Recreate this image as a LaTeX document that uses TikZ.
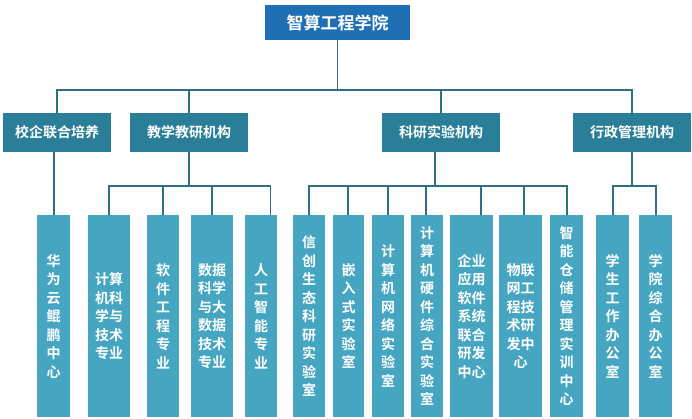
\documentclass[tikz,border=0pt]{standalone}
\usepackage{fontspec}
\setmainfont{Noto Sans CJK SC Bold}
\definecolor{topc}{HTML}{1E6FB3}
\definecolor{midc}{HTML}{2B7E98}
\definecolor{lowc}{HTML}{46A6C2}
\definecolor{linec}{HTML}{2E6F88}
\begin{document}
\begin{tikzpicture}[x=1pt,y=-1pt,
  box/.style={fill=#1,text=white,inner sep=0pt,font=\fontsize{14}{15}\selectfont},
  lw/.style={draw=linec,line width=1.6pt},
  leaf/.style={box=lowc,align=center,font=\fontsize{14}{18.5}\selectfont,minimum height=202pt,anchor=north west}]
\useasboundingbox (0,0) rectangle (692,419);
\fill[white] (0,0) rectangle (692,419);
\node[box=topc,minimum width=145pt,minimum height=35pt,font=\fontsize{17}{18}\selectfont] (top) at (337.5,22.5) {智算工程学院};
\node[box=midc,minimum width=108pt,minimum height=39pt] (a) at (57,132.5) {校企联合培养};
\node[box=midc,minimum width=118pt,minimum height=39pt] (b) at (189,132.5) {教学教研机构};
\node[box=midc,minimum width=118pt,minimum height=39pt] (c) at (441,132.5) {科研实验机构};
\node[box=midc,minimum width=118pt,minimum height=39pt] (d) at (632,132.5) {行政管理机构};
\newcommand{\leafnode}[4]{\node[leaf,minimum width=#3pt] (#1) at (#2,215) {#4};}
\leafnode{l1}{37}{33}{华\\为\\云\\鲲\\鹏\\中\\心}
\leafnode{l2}{88}{42}{计算\\机科\\学与\\技术\\专业}
\leafnode{l3}{147}{32}{软\\件\\工\\程\\专\\业}
\leafnode{l4}{191}{42}{数据\\科学\\与大\\数据\\技术\\专业}
\leafnode{l5}{245}{32}{人\\工\\智\\能\\专\\业}
\leafnode{l6}{293}{32}{信\\创\\生\\态\\科\\研\\实\\验\\室}
\leafnode{l7}{333}{31}{嵌\\入\\式\\实\\验\\室}
\leafnode{l8}{372}{32}{计\\算\\机\\网\\络\\实\\验\\室}
\leafnode{l9}{411}{32}{计\\算\\机\\硬\\件\\综\\合\\实\\验\\室}
\leafnode{l10}{450}{43}{企业\\应用\\软件\\系统\\联合\\研发\\中心}
\leafnode{l11}{499}{43}{物联\\网工\\程技\\术研\\发中\\心}
\leafnode{l12}{550}{33}{智\\能\\仓\\储\\管\\理\\实\\训\\中\\心}
\leafnode{l13}{596}{33}{学\\生\\工\\作\\办\\公\\室}
\leafnode{l14}{639}{33}{学\\院\\综\\合\\办\\公\\室}
% top level bus
\coordinate (t1) at (337.5,90);
\draw[lw] (top.south) -- (t1);
\draw[lw] (a.north) |- (t1) -| (d.north);
\draw[lw] (b.north) -- (b.north |- t1);
\draw[lw] (c.north) -- (c.north |- t1);
% 校企
\draw[lw] (a.south -| l1.north) -- (l1.north);
% 教学
\coordinate (bb) at (189,186);
\draw[lw] (b.south) -- (bb);
\draw[lw] (l2.north) |- (bb) -| (270.5,215);
\draw[lw] (l3.north) -- (l3.north |- bb);
\draw[lw] (l4.north) -- (l4.north |- bb);
% 科研
\coordinate (cb) at (435,186);
\draw[lw] (c.south -| cb) -- (cb);
\draw[lw] (l6.north) |- (cb) -| (l12.north);
\foreach \n/\xx in {l7/348,l8/388,l9/426,l10/481,l11/524}{
  \draw[lw] (\xx,215) -- (\xx,186);}
% 行政
\coordinate (db) at (632,186);
\draw[lw] (d.south) -- (db);
\draw[lw] (l13.north) |- (db) -| (l14.north);
\end{tikzpicture}
\end{document}
